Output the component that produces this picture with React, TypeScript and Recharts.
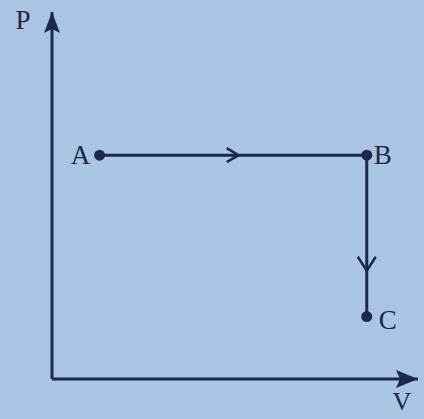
import { ComposedChart, Scatter, XAxis, YAxis } from "recharts"

// process path on the P-V diagram (arbitrary units, axes run 0..10)
const states = ["A", "B", "C"]
const volumes = [1.3, 8.6, 8.6]
const pressures = [6.1, 6.1, 1.7]

// direction arrows drawn midway along each leg
const arrowDirs = ["right", "down"]
const arrowV = [5.1, 8.6]
const arrowP = [6.1, 2.95]

// axis ends
const axisNames = ["P", "V"]
const axisEndV = [0, 10]
const axisEndP = [10, 0]

const INK = "#1c2752"
const BG = "#aac4e3"
const FONT = "'Liberation Serif', 'DejaVu Serif', serif"

const path = states.map((name, i) => ({ name, v: volumes[i], p: pressures[i] }))
const arrows = arrowDirs.map((dir, i) => ({ dir, v: arrowV[i], p: arrowP[i] }))
const axisEnds = axisNames.map((name, i) => ({ name, v: axisEndV[i], p: axisEndP[i] }))

function StateDot(props: any) {
  const { cx, cy, payload } = props
  const dx = payload.name === "A" ? -19 : payload.name === "B" ? 16 : 21
  const dy = payload.name === "C" ? 3 : 0
  return (
    <g>
      <circle cx={cx} cy={cy} r={5.5} fill={INK} />
      <text
        x={cx + dx}
        y={cy + dy}
        textAnchor="middle"
        dominantBaseline="central"
        fontFamily={FONT}
        fontSize={27}
        fill={INK}
      >
        {payload.name}
      </text>
    </g>
  )
}

function Chevron(props: any) {
  const { cx, cy, payload } = props
  const d =
    payload.dir === "right"
      ? `M${cx - 12},${cy - 7} L${cx},${cy} L${cx - 12},${cy + 7}`
      : `M${cx - 9},${cy - 14} L${cx},${cy} L${cx + 9},${cy - 14}`
  return <path d={d} fill="none" stroke={INK} strokeWidth={2.5} strokeLinejoin="miter" />
}

function AxisHead(props: any) {
  const { cx, cy, payload } = props
  if (payload.name === "P") {
    return (
      <g>
        <path d={`M${cx},${cy} L${cx + 8},${cy + 21} L${cx},${cy + 17} L${cx - 8},${cy + 21} Z`} fill={INK} />
        <text x={cx - 29} y={cy + 8} textAnchor="middle" dominantBaseline="central" fontFamily={FONT} fontSize={27} fill={INK}>
          P
        </text>
      </g>
    )
  }
  return (
    <g>
      <path d={`M${cx},${cy} L${cx - 22},${cy - 9} L${cx - 18},${cy} L${cx - 22},${cy + 9} Z`} fill={INK} />
      <text x={cx - 16} y={cy + 22} textAnchor="middle" dominantBaseline="central" fontFamily={FONT} fontSize={26} fill={INK}>
        V
      </text>
    </g>
  )
}

export default function App() {
  return (
    <div style={{ position: "fixed", left: 0, top: 0, width: 424, height: 419, background: BG }}>
      <ComposedChart width={424} height={419} margin={{ top: 12, right: 6, bottom: 0, left: 0 }}>
        <XAxis
          type="number"
          dataKey="v"
          domain={[0, 10]}
          height={40}
          tick={false}
          tickLine={false}
          axisLine={{ stroke: INK, strokeWidth: 3 }}
        />
        <YAxis
          type="number"
          dataKey="p"
          domain={[0, 10]}
          width={52}
          tick={false}
          tickLine={false}
          axisLine={{ stroke: INK, strokeWidth: 3 }}
        />
        <Scatter
          data={path}
          line={{ stroke: INK, strokeWidth: 3 }}
          shape={StateDot}
          isAnimationActive={false}
        />
        <Scatter data={arrows} shape={Chevron} isAnimationActive={false} />
        <Scatter data={axisEnds} shape={AxisHead} isAnimationActive={false} />
      </ComposedChart>
    </div>
  )
}
